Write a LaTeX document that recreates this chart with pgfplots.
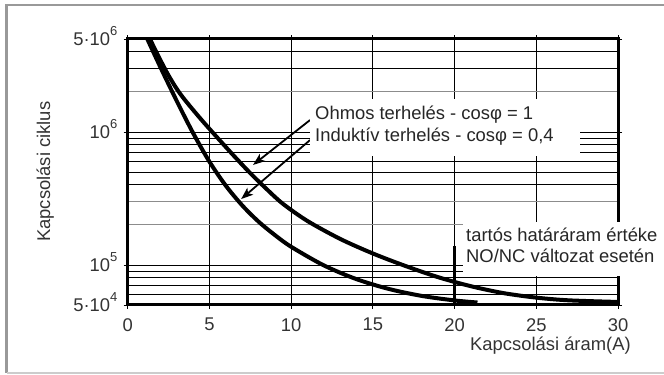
\documentclass[border=0pt]{standalone}
\usepackage{fontspec}
\setmainfont{Liberation Sans}
\usepackage{pgfplots}
\pgfplotsset{compat=1.18}
\usetikzlibrary{arrows.meta}

% raised exponent in the text font
\newcommand{\ex}[1]{\raisebox{10.5bp}{\fontsize{13bp}{13bp}\selectfont #1}}

\begin{document}
\fontsize{18.4bp}{22bp}\selectfont
\begin{tikzpicture}[x=1bp,y=1bp]
\useasboundingbox (0,0) rectangle (664,374);

% outer frame
\draw[black!40, line width=2.4bp] (6.5,1.3) -- (6.5,369) -- (664,369);
\draw[black!20, line width=2bp] (6.5,1.3) -- (664,1.3);

\begin{axis}[
  at={(127.7bp,69bp)}, anchor=south west,
  scale only axis, width=490.3bp, height=266bp,
  ymode=log,
  xmin=0, xmax=30, ymin=5e4, ymax=5e6,
  xtick={0,5,...,30},
  ytick={5e4,1e5,1e6,5e6},
  yticklabels={5·10\ex{4}, 10\ex{5}, 10\ex{6}, 5·10\ex{6}},
  minor ytick={6e4,7e4,8e4,9e4,4e5,5e5,6e5,7e5,8e5,9e5,3e6,4e6},
  extra y ticks={2e5,3e5,2e6},
  extra y tick labels={},
  extra y tick style={grid=major, major tick length=0bp,
    major grid style={black!45, line width=0.9bp}},
  xmajorgrids, ymajorgrids, yminorgrids,
  major grid style={black, line width=0.9bp},
  minor grid style={black, line width=0.9bp},
  tick align=outside,
  major tick length=4bp, minor tick length=0bp,
  tick style={black, line width=0.8bp},
  axis line style={black, line width=3bp},
  /pgf/number format/assume math mode=true,
  every tick label/.append style={font=\fontsize{18.4bp}{22bp}\selectfont, text=black!80},
  xticklabel style={yshift=-3bp},
  yticklabel style={anchor=base east, yshift=-7bp},
]

% heavy plot frame
\draw[black, line width=3bp] (rel axis cs:0,0) rectangle (rel axis cs:1,1);

% resistive load, cos phi = 1
\addplot[black, line width=4bp, smooth, tension=0.5] coordinates {
  (1.36,5.0e6) (2.0,3.47e6) (2.5,2.66e6) (3.0,2.11e6) (3.5,1.74e6)
  (4.5,1.24e6) (5.5,9.02e5) (6.5,6.61e5) (7.5,4.90e5) (8.5,3.72e5)
  (9.5,2.88e5) (11,2.14e5) (13,1.57e5) (15,1.22e5) (17,9.82e4)
  (19,8.09e4) (21,6.92e4) (23,6.14e4) (25,5.68e4) (27,5.42e4) (30,5.27e4)
};

% inductive load, cos phi = 0.4
\addplot[black, line width=4bp, smooth, tension=0.5] coordinates {
  (1.2,5.0e6) (2,3.07e6) (3,1.71e6) (4,9.82e5) (5,5.98e5) (6,3.95e5)
  (7,2.81e5) (8,2.12e5) (9,1.68e5) (10,1.37e5) (12,9.93e4) (14,7.82e4)
  (16,6.59e4) (18,5.85e4) (20,5.41e4) (21.4,5.22e4)
};

% continuous current limit of the NO/NC version
\addplot[black, line width=2.6bp] coordinates {(20,1.39e5) (20,5e4)};

% pointers to the curves
\draw[black, line width=1.8bp, -{Stealth[length=12bp, width=9bp, inset=3bp]}]
  (axis cs:11.16,1.23e6) -- (axis cs:7.67,5.65e5);
\draw[black, line width=1.8bp, -{Stealth[length=12bp, width=9bp, inset=3bp]}]
  (axis cs:11.16,8.7e5) -- (axis cs:6.94,3.13e5);
\end{axis}

% label backgrounds
\fill[white] (310,218) rectangle (580,275);
\fill[white] (463,98.5) rectangle (664,152.5);

\node[anchor=base west, inner sep=0, text=black!85] at (315,254.7) {Ohmos terhelés - cosφ = 1};
\node[anchor=base west, inner sep=0, text=black!85] at (315,232.3) {Induktív terhelés - cosφ = 0,4};
\node[anchor=base west, inner sep=0, text=black!85] at (466,132.3) {tartós határáram értéke};
\node[anchor=base west, inner sep=0, text=black!85] at (466,111.3) {NO/NC változat esetén};

% axis titles
\node[anchor=base west, inner sep=0, text=black!80] at (470,24) {Kapcsolási áram(A)};
\node[anchor=base west, inner sep=0, rotate=90, text=black!80] at (50,132) {Kapcsolási ciklus};
\end{tikzpicture}
\end{document}
